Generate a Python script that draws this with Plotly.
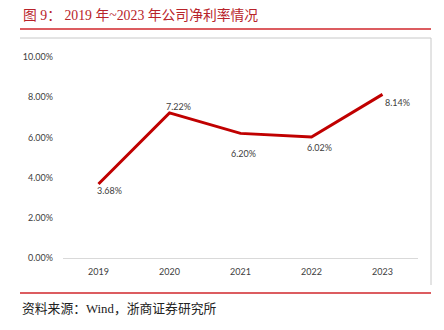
import plotly.graph_objects as go

years = ["2019", "2020", "2021", "2022", "2023"]
net_margin = [3.68, 7.22, 6.20, 6.02, 8.14]
y_ticks = [0, 2, 4, 6, 8, 10]
y_tick_text = ["0.00%", "2.00%", "4.00%", "6.00%", "8.00%", "10.00%"]

# label offsets (pixels) for each data label
label_dx = [11, 9, 3, 8, 15]
label_dy = [-6, 6, -20, -10, -8]

L, R, T, B = 63, 26, 57, 72
W, H = 444, 330
pw, ph = W - L - R, H - T - B

def px(x):
    return (x - L) / pw

def py(y):
    return (H - B - y) / ph

tick_font = dict(family="Lato, Liberation Sans, sans-serif", size=9, color="#404040")

fig = go.Figure()
fig.add_trace(go.Scatter(
    x=years, y=net_margin, mode="lines",
    line=dict(color="#C00000", width=3),
    cliponaxis=False, hoverinfo="skip",
))

annotations = [
    dict(text=f"{v:.2f}%", x=i, y=v, xref="x", yref="y", showarrow=False,
         xshift=dx, yshift=dy, font=tick_font)
    for i, (v, dx, dy) in enumerate(zip(net_margin, label_dx, label_dy))
]
annotations += [
    dict(text="图 9： 2019 年~2023 年公司净利率情况", xref="paper", yref="paper",
         x=px(21), y=py(15), xanchor="left", yanchor="middle", showarrow=False,
         font=dict(family="Liberation Serif, Noto Sans CJK SC, serif", size=13.8, color="#B8232A")),
    dict(text="资料来源：Wind，浙商证券研究所", xref="paper", yref="paper",
         x=px(20), y=py(308), xanchor="left", yanchor="middle", showarrow=False,
         font=dict(family="Liberation Serif, Noto Sans CJK SC, serif", size=12.8, color="#222222")),
]

fig.update_layout(
    width=W, height=H,
    margin=dict(l=L, r=R, t=T, b=B),
    paper_bgcolor="white", plot_bgcolor="white",
    showlegend=False,
    xaxis=dict(type="category", range=[-0.5, 4.5], showgrid=False, showline=True,
               linecolor="#D9D9D9", linewidth=1, ticks="", ticklabelstandoff=5,
               tickfont=tick_font, fixedrange=True),
    yaxis=dict(range=[0, 10], tickvals=y_ticks, ticktext=y_tick_text, showgrid=False,
               zeroline=False, showline=False, ticks="", ticklabelstandoff=9,
               tickfont=tick_font, fixedrange=True),
    shapes=[
        dict(type="line", xref="paper", yref="paper", x0=px(20), x1=px(431), y0=py(29), y1=py(29),
             line=dict(color="#D0262B", width=1.5)),
        dict(type="line", xref="paper", yref="paper", x0=px(20), x1=px(431), y0=py(38), y1=py(38),
             line=dict(color="#C8C8C8", width=1)),
        dict(type="line", xref="paper", yref="paper", x0=px(431), x1=px(431), y0=py(38), y1=py(285),
             line=dict(color="#C8C8C8", width=1)),
        dict(type="line", xref="paper", yref="paper", x0=px(20), x1=px(431), y0=py(293), y1=py(293),
             line=dict(color="#D0262B", width=1.5)),
    ],
    annotations=annotations,
)

fig.write_html("out.html")
